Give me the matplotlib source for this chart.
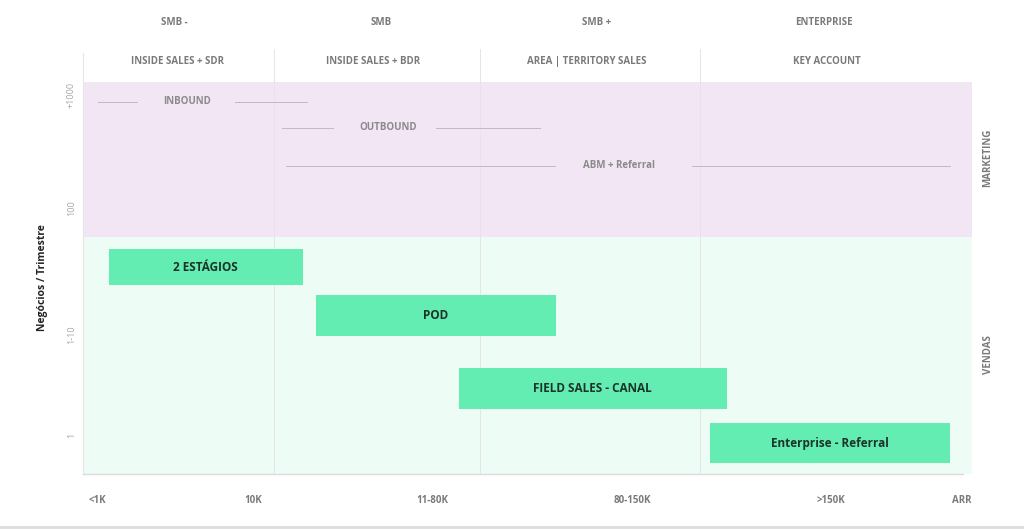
import matplotlib
matplotlib.use("Agg")
import matplotlib.pyplot as plt
from matplotlib.lines import Line2D

plt.rcParams['font.family'] = ['Open Sans', 'DejaVu Sans']

# ---------------- data (diagram units: x = ARR scale 0-100, y = deals/quarter 0-100)
segments_top = ["SMB -", "SMB", "SMB +", "ENTERPRISE"]
segments_top_x = [10.3, 33.5, 57.8, 83.4]
roles = ["INSIDE SALES + SDR", "INSIDE SALES + BDR", "AREA | TERRITORY SALES", "KEY ACCOUNT"]
roles_x = [10.6, 32.6, 56.7, 83.7]
dividers_x = [21.5, 44.7, 69.4]

x_tick_labels = ["<1K", "10K", "11-80K", "80-150K", ">150K", "ARR"]
x_tick_pos = [1.6, 19.1, 39.3, 61.8, 84.1, 98.9]
y_tick_labels = ["+1000", "100", "1-10", "1"]
y_tick_pos = [96.7, 67.9, 35.5, 9.9]

marketing_split = 60.5
mkt_names = ["INBOUND", "OUTBOUND", "ABM + Referral"]
mkt_text_x = [11.7, 34.3, 60.3]
mkt_y = [94.9, 88.3, 78.6]
mkt_left = [(1.7, 6.1), (22.4, 28.1), (22.8, 53.1)]
mkt_right = [(17.1, 25.2), (39.7, 51.4), (68.5, 97.5)]

sales_names = ["2 ESTÁGIOS", "POD", "FIELD SALES - CANAL", "Enterprise - Referral"]
sales_x0 = [2.9, 26.2, 42.3, 70.5]
sales_x1 = [24.7, 53.2, 72.4, 97.5]
sales_y0 = [48.2, 35.2, 16.6, 2.8]
sales_y1 = [57.4, 45.7, 27.0, 13.0]

# ---------------- figure
W, H = 1024, 529
fig = plt.figure(figsize=(W / 100, H / 100), dpi=100)
ax = fig.add_axes([83 / W, 1 - 474 / H, 889 / W, 392 / H])
ax.set_xlim(0, 100)
ax.set_ylim(0, 100)

purple = "#F2E6F5"
mint = "#EDFCF5"
bar_c = "#63EDB3"
grey_txt = "#7a7a7a"

ax.axhspan(marketing_split, 100, color=purple, lw=0, zorder=0)
ax.axhspan(0, marketing_split, color=mint, lw=0, zorder=0)

for s in ["top", "right"]:
    ax.spines[s].set_visible(False)
ax.spines["left"].set_color("#e6e6e6")
ax.spines["left"].set_linewidth(0.8)
ax.spines["left"].set_bounds(0, 107.5)
ax.spines["bottom"].set_color("#dcdcdc")
ax.spines["bottom"].set_linewidth(1.0)
ax.spines["bottom"].set_bounds(0, 99)

# dividers
for dx in dividers_x:
    ax.add_line(Line2D([dx, dx], [0, 108.5], color="#e6e4e8", lw=0.7, zorder=1, clip_on=False))

# marketing lines
for name, tx, y, (l0, l1), (r0, r1) in zip(mkt_names, mkt_text_x, mkt_y, mkt_left, mkt_right):
    ax.plot([l0, l1], [y, y], color="#c4b6c6", lw=0.7, zorder=2)
    ax.plot([r0, r1], [y, y], color="#c4b6c6", lw=0.7, zorder=2)
    ax.text(tx, y, name, ha="center", va="center", fontsize=7, fontweight="bold",
            color="#8a8a8a", zorder=3)

# sales bars
for name, x0, x1, y0, y1 in zip(sales_names, sales_x0, sales_x1, sales_y0, sales_y1):
    ax.barh((y0 + y1) / 2, x1 - x0, height=y1 - y0, left=x0, color=bar_c, lw=0, zorder=2)
    ax.text((x0 + x1) / 2, (y0 + y1) / 2, name, ha="center", va="center", fontsize=8.5,
            fontweight="bold", color="#1c3328", zorder=3)

# ticks
ax.set_yticks(y_tick_pos)
ax.set_yticklabels(y_tick_labels, rotation=90, va="center", fontsize=6.5, color="#a5a5a5")
ax.set_xticks(x_tick_pos)
ax.set_xticklabels(x_tick_labels, fontsize=7, fontweight="bold", color=grey_txt)
ax.tick_params(axis="both", length=0)
ax.tick_params(axis="x", pad=15)
ax.tick_params(axis="y", pad=5)

ax.set_ylabel("Negócios / Trimestre", fontsize=7.5, fontweight="bold", color="#222222", labelpad=14)

# header rows
for t, x in zip(segments_top, segments_top_x):
    ax.text(x, 115.3, t, ha="center", va="center", fontsize=7, fontweight="bold",
            color=grey_txt, clip_on=False)
for t, x in zip(roles, roles_x):
    ax.text(x, 105.3, t, ha="center", va="center", fontsize=7, fontweight="bold",
            color=grey_txt, clip_on=False)

# right-side labels
ax.text(101.8, 80.6, "MARKETING", rotation=90, ha="center", va="center", fontsize=7,
        fontweight="bold", color=grey_txt, clip_on=False)
ax.text(101.8, 30.4, "VENDAS", rotation=90, ha="center", va="center", fontsize=7,
        fontweight="bold", color=grey_txt, clip_on=False)

# bottom grey rule
fig.add_artist(Line2D([0, 1], [2.5 / H, 2.5 / H], color="#dcdcdc", lw=2, transform=fig.transFigure))

fig.savefig("out.png", dpi=100, facecolor="white")
